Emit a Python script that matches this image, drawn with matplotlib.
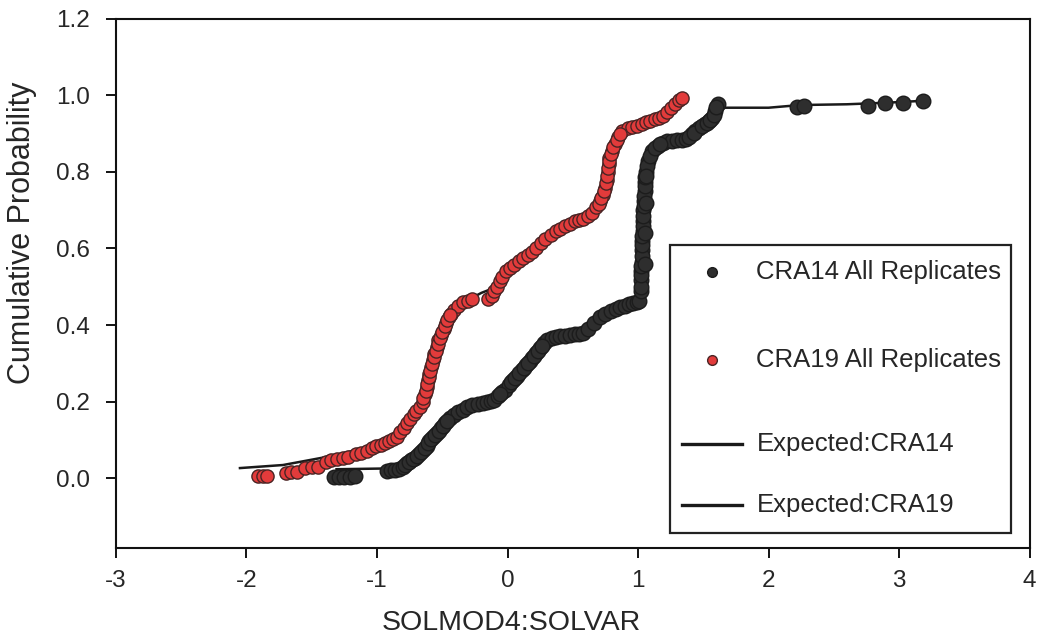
import matplotlib
matplotlib.use("Agg")
import matplotlib.pyplot as plt
from matplotlib.patches import Rectangle
from matplotlib.lines import Line2D

plt.rcParams['font.family'] = ['Liberation Sans', 'DejaVu Sans']

# ---------------- data ----------------
cra19_x = [-1.91, -1.87, -1.84, -1.70, -1.66, -1.61, -1.55, -1.50, -1.45,
           -1.39, -1.35, -1.31, -1.26, -1.22, -1.16, -1.12, -1.08,
           -1.04, -1.01, -0.97, -0.94, -0.91, -0.88, -0.85,
           -0.82, -0.79, -0.77, -0.75, -0.72, -0.70, -0.67,
           -0.65, -0.63, -0.62, -0.61, -0.60, -0.59, -0.57, -0.56, -0.54, -0.53,
           -0.51, -0.49, -0.47, -0.45, -0.43, -0.41, -0.38, -0.34, -0.30, -0.27,
           -0.15, -0.12, -0.10, -0.08, -0.06, -0.04, -0.01, 0.02, 0.05, 0.09,
           0.12, 0.16, 0.19, 0.22, 0.26, 0.29, 0.33, 0.37, 0.40, 0.44, 0.48,
           0.52, 0.55, 0.58, 0.62, 0.65, 0.68, 0.71, 0.73, 0.75, 0.76, 0.77,
           0.775, 0.78, 0.80, 0.82, 0.85, 0.88, 0.92, 0.95, 0.99, 1.03, 1.06,
           1.09, 1.13, 1.16, 1.19, 1.22, 1.25, 1.28, 1.31, 1.34,
           -0.645, -0.625, -0.615, -0.605, -0.595, -0.58, -0.565, -0.55, -0.535,
           -0.52, -0.50, -0.48, -0.46, -0.44,
           0.70, 0.72, 0.74, 0.755, 0.765, 0.772, 0.778, 0.79, 0.81, 0.835, 0.865]
cra19_y = [0.005, 0.005, 0.006, 0.014, 0.016, 0.017, 0.027, 0.029, 0.030,
           0.043, 0.047, 0.050, 0.053, 0.056, 0.062, 0.066, 0.071,
           0.079, 0.083, 0.087, 0.091, 0.097, 0.102, 0.108,
           0.120, 0.132, 0.143, 0.155, 0.168, 0.176, 0.185,
           0.200, 0.220, 0.237, 0.255, 0.272, 0.290, 0.308, 0.325, 0.342, 0.360,
           0.375, 0.390, 0.405, 0.420, 0.430, 0.440, 0.450, 0.459, 0.464, 0.467,
           0.468, 0.475, 0.490, 0.500, 0.515, 0.525, 0.540, 0.550, 0.557, 0.567,
           0.574, 0.582, 0.590, 0.600, 0.615, 0.626, 0.636, 0.645, 0.652, 0.660, 0.665,
           0.671, 0.675, 0.678, 0.686, 0.694, 0.708, 0.725, 0.740, 0.759, 0.780, 0.800,
           0.820, 0.837, 0.856, 0.874, 0.892, 0.908, 0.915, 0.918, 0.921, 0.926, 0.930,
           0.934, 0.938, 0.942, 0.947, 0.956, 0.967, 0.978, 0.987, 0.994,
           0.210, 0.228, 0.246, 0.263, 0.281, 0.299, 0.316, 0.333, 0.351,
           0.367, 0.382, 0.397, 0.412, 0.425,
           0.716, 0.733, 0.750, 0.770, 0.790, 0.810, 0.828, 0.846, 0.865, 0.883, 0.900]

cra14_x = [-1.33, -1.29, -1.25, -1.21, -1.17,
           -0.92, -0.89, -0.86, -0.83,
           -0.80, -0.77, -0.74, -0.71, -0.68, -0.65, -0.62, -0.60, -0.57, -0.54,
           -0.51, -0.48, -0.44, -0.41, -0.38, -0.34, -0.31, -0.27, -0.23, -0.19,
           -0.16, -0.13, -0.10, -0.07, -0.04, -0.02, 0.01, 0.04, 0.07, 0.11,
           0.14, 0.17, 0.19, 0.22, 0.25, 0.28, 0.30, 0.34, 0.37, 0.40, 0.44,
           0.48, 0.52, 0.55, 0.58, 0.62, 0.66, 0.71, 0.75, 0.79, 0.83, 0.86,
           0.90, 0.93, 0.96, 0.99, 1.01,
           1.02, 1.02, 1.025, 1.03, 1.03, 1.03, 1.035, 1.035, 1.04, 1.045, 1.05,
           1.055, 1.06, 1.08, 1.11, 1.15, 1.19, 1.22, 1.26, 1.30, 1.34, 1.37,
           1.41, 1.44, 1.47, 1.51, 1.54, 1.57, 1.59, 1.61,
           2.22, 2.27, 2.76, 2.89, 3.03, 3.18,
           1.02, 1.02, 1.025, 1.03, 1.03, 1.032, 1.035, 1.037, 1.042, 1.047, 1.052,
           1.057, 1.07, 1.095, 1.05, 1.055, 1.06, 1.06,
           -0.785, -0.755, -0.725, -0.695, -0.665, -0.635, -0.61, -0.585, -0.555,
           -0.525, -0.495, -0.46,
           -0.055, 0.025, 0.055, 0.09, 0.125, 0.155, 0.205, 0.235, 0.265,
           1.13, 1.17, 1.39, 1.43, 1.49, 1.525, 1.555, 1.58, 1.60]
cra14_y = [0.003, 0.003, 0.003, 0.003, 0.004,
           0.018, 0.020, 0.021, 0.023,
           0.030, 0.039, 0.046, 0.052, 0.062, 0.073, 0.085, 0.097, 0.107, 0.117,
           0.130, 0.143, 0.157, 0.165, 0.172, 0.179, 0.185, 0.190, 0.193, 0.196,
           0.199, 0.201, 0.204, 0.215, 0.224, 0.230, 0.243, 0.256, 0.268, 0.282,
           0.295, 0.306, 0.313, 0.326, 0.340, 0.352, 0.360, 0.365, 0.368, 0.370, 0.372,
           0.374, 0.376, 0.377, 0.378, 0.390, 0.405, 0.420, 0.430, 0.437, 0.442, 0.446,
           0.450, 0.454, 0.457, 0.461, 0.464,
           0.490, 0.517, 0.540, 0.565, 0.595, 0.620, 0.645, 0.673, 0.700, 0.725, 0.751,
           0.775, 0.800, 0.830, 0.856, 0.868, 0.876, 0.882, 0.882, 0.883, 0.884, 0.886,
           0.898, 0.907, 0.916, 0.925, 0.933, 0.942, 0.960, 0.978,
           0.970, 0.973, 0.973, 0.981, 0.981, 0.986,
           0.500, 0.530, 0.553, 0.580, 0.608, 0.632, 0.660, 0.686, 0.712, 0.738, 0.763,
           0.788, 0.815, 0.843, 0.560, 0.640, 0.720, 0.790,
           0.035, 0.042, 0.049, 0.057, 0.068, 0.079, 0.091, 0.102, 0.112,
           0.124, 0.137, 0.150,
           0.220, 0.250, 0.262, 0.275, 0.288, 0.300, 0.320, 0.333, 0.346,
           0.862, 0.872, 0.892, 0.903, 0.920, 0.929, 0.937, 0.950, 0.970]

exp14_x = [-1.31, -0.92, -0.80, -0.65, -0.44, -0.31, -0.10, 0.04, 0.19, 0.30,
           0.58, 0.71, 0.86, 1.01, 1.03, 1.06, 1.11, 1.22, 1.37, 1.47, 1.57,
           1.61, 2.00, 2.24, 2.60, 2.90, 3.18]
exp14_y = [0.023, 0.025, 0.035, 0.075, 0.157, 0.185, 0.205, 0.256, 0.313, 0.360,
           0.378, 0.420, 0.446, 0.464, 0.600, 0.800, 0.856, 0.882, 0.886, 0.916, 0.942,
           0.968, 0.968, 0.975, 0.977, 0.981, 0.986]

exp19_x = [-2.05, -1.72, -1.31, -1.00, -0.85, -0.72, -0.62, -0.53, -0.43, -0.34,
           -0.20, -0.08, 0.02, 0.19, 0.40, 0.58, 0.71, 0.78, 0.88, 1.09, 1.19, 1.34]
exp19_y = [0.026, 0.034, 0.060, 0.088, 0.110, 0.168, 0.237, 0.360, 0.430, 0.459,
           0.484, 0.500, 0.550, 0.590, 0.652, 0.678, 0.725, 0.837, 0.908, 0.934, 0.947, 0.994]

legend_labels = ["CRA14 All Replicates", "CRA19 All Replicates",
                 "Expected:CRA14", "Expected:CRA19"]
x_ticks = [-3, -2, -1, 0, 1, 2, 3, 4]
y_ticks = [0.0, 0.2, 0.4, 0.6, 0.8, 1.0, 1.2]

# ---------------- styles ----------------
TXT = "#262626"
BLACK_FILL = "#2e2e2e"
BLACK_EDGE = "#1c1c1c"
RED_FILL = "#e23b3b"
RED_EDGE = "#4a2424"

fig = plt.figure(figsize=(10.4, 6.43), dpi=100)
ax = fig.add_axes([0.1115, 0.1477, 0.8785, 0.8228])

ax.plot(exp14_x, exp14_y, color="#1a1a1a", lw=1.8, zorder=1)
ax.plot(exp19_x, exp19_y, color="#1a1a1a", lw=1.8, zorder=1)
ax.plot(cra14_x, cra14_y, ls="none", marker="o", ms=10.5, mfc=BLACK_FILL,
        mec=BLACK_EDGE, mew=1.0, zorder=2)
ax.plot(cra19_x, cra19_y, ls="none", marker="o", ms=9.5, mfc=RED_FILL,
        mec=RED_EDGE, mew=1.0, zorder=3)

ax.set_xlim(-3, 4)
ax.set_ylim(-0.183, 1.2)
ax.set_xticks(x_ticks)
ax.set_xticklabels([str(t) for t in x_ticks])
ax.set_yticks(y_ticks)
ax.set_yticklabels([f"{t:.1f}" for t in y_ticks])
ax.tick_params(direction="out", length=7, width=1.3, labelsize=17.5,
               colors="black", labelcolor=TXT)
ax.tick_params(axis="y", pad=12)
ax.tick_params(axis="x", pad=9)
for s in ax.spines.values():
    s.set_linewidth(1.5)
    s.set_color("#111111")

ax.set_xlabel("SOLMOD4:SOLVAR", fontsize=20.5, color=TXT)
ax.xaxis.set_label_coords(0.433, -0.117)
ax.set_ylabel("Cumulative Probability", fontsize=22, color=TXT)
ax.yaxis.set_label_coords(-0.086, 0.595)

# ---------------- legend (manual layout) ----------------
ax.add_patch(Rectangle((0.606, 0.028), 0.374, 0.545, transform=ax.transAxes,
                       fill=True, facecolor="white", edgecolor="#222222",
                       lw=1.6, zorder=5))
rows = [0.522, 0.355, 0.197, 0.081]
ax.add_line(Line2D([0.652], [rows[0]], transform=ax.transAxes, ls="none",
                   marker="o", ms=7, mfc=BLACK_FILL, mec=BLACK_EDGE, zorder=6))
ax.add_line(Line2D([0.652], [rows[1]], transform=ax.transAxes, ls="none",
                   marker="o", ms=7, mfc=RED_FILL, mec=RED_EDGE, zorder=6))
for r in rows[2:]:
    ax.add_line(Line2D([0.620, 0.685], [r, r], transform=ax.transAxes,
                       color="#1a1a1a", lw=2.4, zorder=6))
for r, lab in zip(rows, legend_labels):
    ax.text(0.701, r, lab, transform=ax.transAxes, fontsize=18.5, color=TXT,
            va="center", ha="left", zorder=7)

fig.savefig("out.png", dpi=100)
